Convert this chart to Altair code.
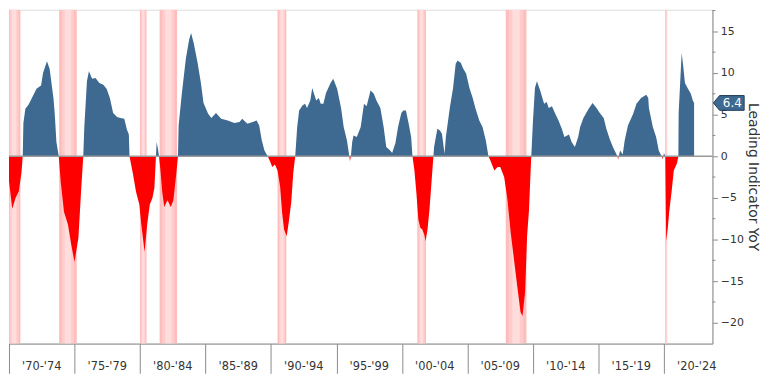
import altair as alt
import pandas as pd

# ---- data (decimal year, YoY %) ----
years = [
    1970.0, 1970.25, 1970.5, 1970.75, 1970.95, 1971.05,
    1971.1, 1971.25, 1971.5, 1971.75, 1972.1, 1972.45, 1972.6, 1972.9, 1973.1, 1973.4, 1973.5, 1973.62, 1973.8,
    1973.95, 1974.2, 1974.5, 1974.75, 1975.0, 1975.3, 1975.5, 1975.67,
    1975.75, 1975.95, 1976.1, 1976.35, 1976.6, 1976.9, 1977.2, 1977.45, 1977.7, 1977.95, 1978.25, 1978.5, 1978.8, 1979.0, 1979.15, 1979.2,
    1979.3, 1979.45, 1979.7, 1979.95, 1980.1, 1980.35, 1980.55, 1980.75, 1980.95, 1981.1, 1981.22,
    1981.27, 1981.38, 1981.45,
    1981.55, 1981.7, 1981.85, 1982.1, 1982.35, 1982.55, 1982.75, 1982.9,
    1982.95, 1983.2, 1983.5, 1983.75, 1983.9, 1984.1, 1984.4, 1984.65, 1984.85, 1985.2, 1985.45, 1985.8, 1986.2, 1986.7,
    1987.2, 1987.6, 1987.8, 1988.2, 1988.6, 1988.9, 1989.1, 1989.3, 1989.5, 1989.75,
    1989.9, 1990.1, 1990.3, 1990.5, 1990.7, 1990.85, 1991.0, 1991.2, 1991.35, 1991.55, 1991.7, 1991.85,
    1992.0, 1992.15, 1992.4, 1992.6, 1992.75, 1993.0, 1993.15, 1993.45, 1993.65, 1993.8, 1994.0, 1994.2, 1994.55, 1994.75,
    1995.05, 1995.35, 1995.55, 1995.8, 1995.98,
    1996.03, 1996.1,
    1996.2, 1996.3, 1996.55, 1996.85, 1997.1, 1997.3, 1997.6, 1997.85, 1998.05, 1998.35, 1998.6, 1998.8, 1999.1, 1999.25,
    1999.5, 1999.7, 1999.95, 2000.1, 2000.3, 2000.5, 2000.7, 2000.8,
    2000.95, 2001.1, 2001.25, 2001.4, 2001.55, 2001.7, 2001.8, 2001.95, 2002.1, 2002.25, 2002.4,
    2002.45, 2002.7, 2002.9, 2003.05, 2003.25, 2003.35, 2003.65, 2003.9, 2004.1, 2004.25, 2004.5, 2004.65, 2004.9,
    2005.15, 2005.4, 2005.6, 2005.9, 2006.15, 2006.4, 2006.6,
    2006.75, 2007.05, 2007.3, 2007.5, 2007.8, 2008.05, 2008.3, 2008.55, 2008.8, 2009.05, 2009.2, 2009.4, 2009.55, 2009.7, 2009.8, 2009.87,
    2010.0, 2010.15, 2010.3, 2010.55, 2010.85, 2011.05, 2011.2, 2011.45, 2011.7, 2011.95, 2012.2, 2012.4, 2012.75, 2012.95,
    2013.2, 2013.45, 2013.6, 2013.85, 2014.25, 2014.55, 2014.85, 2015.1, 2015.4, 2015.6, 2015.85, 2016.1, 2016.35, 2016.45,
    2016.5, 2016.55,
    2016.65, 2016.85, 2017.0, 2017.25, 2017.65, 2017.9, 2018.25, 2018.65, 2018.8, 2018.85, 2019.15, 2019.4, 2019.6, 2019.75, 2019.85,
    2019.9, 2019.95, 2020.0, 2020.1,
    2020.17, 2020.3, 2020.4, 2020.6, 2020.75, 2021.0, 2021.1,
    2021.12, 2021.35, 2021.45, 2021.6, 2021.8, 2022.05, 2022.2, 2022.3,
]
values = [
    -3.0, -6.3, -5.0, -4.2, -2.0, 0.0,
    4.0, 5.7, 6.2, 7.0, 8.1, 8.5, 10.0, 11.4, 10.5, 6.9, 4.9, 1.7, 0.0,
    -3.1, -6.7, -8.2, -10.6, -12.7, -9.8, -4.3, 0.0,
    3.5, 9.0, 10.2, 9.3, 9.4, 8.8, 8.6, 8.1, 7.0, 5.2, 4.7, 4.6, 4.5, 3.2, 2.6, 0.0,
    -0.8, -2.0, -4.3, -5.8, -8.2, -11.5, -8.2, -5.8, -5.0, -3.8, 0.0,
    1.7, 0.8, 0.0,
    -1.5, -4.3, -6.1, -5.3, -6.1, -5.3, -2.4, 0.0,
    3.7, 7.6, 11.7, 14.0, 14.8, 13.6, 11.2, 8.8, 6.4, 5.1, 4.6, 5.2, 4.5, 4.3,
    4.0, 4.1, 4.5, 3.9, 4.1, 4.3, 3.7, 1.9, 0.7, 0.0,
    -0.5, -1.3, -1.0, -1.7, -3.7, -6.8, -8.8, -9.6, -8.0, -5.5, -2.0, 0.0,
    3.5, 5.5, 6.1, 6.3, 5.8, 6.7, 8.2, 6.7, 7.0, 6.3, 6.3, 7.6, 8.8, 9.3,
    8.1, 5.8, 3.5, 1.9, 0.0,
    -0.6, 0.0,
    1.7, 2.5, 2.3, 3.5, 6.3, 6.0, 7.9, 7.5, 6.7, 5.8, 3.5, 1.1, 0.7, 0.4,
    1.6, 3.5, 5.2, 5.5, 5.5, 4.0, 2.3, 0.0,
    -1.7, -4.4, -7.6, -8.6, -8.8, -9.4, -10.2, -8.8, -6.4, -3.2, 0.0,
    1.1, 3.3, 3.1, 2.7, 0.3, 2.3, 5.8, 8.2, 11.1, 11.5, 11.2, 10.6, 9.9,
    8.2, 7.0, 5.8, 4.3, 3.5, 1.9, 0.0,
    -0.5, -1.7, -1.3, -1.3, -2.5, -5.2, -9.2, -12.4, -15.6, -18.7, -19.2, -16.3, -9.6, -6.4, -2.5, 0.0,
    4.3, 8.2, 9.0, 7.9, 6.3, 6.5, 5.8, 6.0, 5.1, 4.3, 3.3, 2.3, 2.6, 1.7,
    1.1, 2.3, 3.5, 4.6, 5.7, 6.4, 5.8, 5.2, 4.6, 3.3, 2.1, 1.1, 0.3, 0.0,
    -0.4, 0.0,
    0.7, 0.2, 1.9, 3.7, 5.1, 6.3, 7.0, 7.4, 7.0, 5.8, 3.5, 2.3, 0.7, 0.2, 0.0,
    -0.4, 0.0, 0.4, 0.0,
    -10.2, -8.5, -6.7, -4.0, -1.7, -0.8, 0.0,
    5.2, 12.4, 11.1, 8.8, 8.2, 7.5, 6.7, 6.4,
]

rec_start = [1969.92, 1973.83, 1980.0, 1981.5, 1990.5, 2001.17, 2007.92, 2020.08]
rec_end = [1970.87, 1975.17, 1980.5, 1982.83, 1991.17, 2001.83, 2009.5, 2020.25]

period_mid = [1972.5, 1977.5, 1982.5, 1987.5, 1992.5, 1997.5, 2002.5, 2007.5, 2012.5, 2017.5, 2022.5]
period_label = ["'70-'74", "'75-'79", "'80-'84", "'85-'89", "'90-'94", "'95-'99",
                "'00-'04", "'05-'09", "'10-'14", "'15-'19", "'20-'24"]
period_ticks = [1970, 1975, 1980, 1985, 1990, 1995, 2000, 2005, 2010, 2015, 2020]

y_ticks = [-20, -15, -10, -5, 0, 5, 10, 15]
y_minor = [-17.5, -12.5, -7.5, -2.5, 2.5, 7.5, 12.5, 17.5]

# ---- tables ----
df = pd.DataFrame({"year": years, "v": values})
df["pos"] = df["v"].clip(lower=0)
df["neg"] = df["v"].clip(upper=0)
rec = pd.DataFrame({"start": rec_start, "end": rec_end})
per = pd.DataFrame({"mid": period_mid, "label": period_label})
last = df.tail(1).copy()
last["label"] = last["v"].map(lambda x: f"{x:.1f}")
zero = pd.DataFrame({"v": [0]})
minor = pd.DataFrame({"v": y_minor})

W, H = 710, 337
FONT = "DejaVu Sans"
BLUE = "#3e6990"
GRAY = "#8a8a8a"

xs = alt.Scale(domain=[1970, 2023.7], nice=False, zero=False)
ys = alt.Scale(domain=[-22.5, 17.6], nice=False, zero=False)
xaxis = alt.Axis(values=period_ticks, labels=False, tickSize=30, tickColor=GRAY,
                 domainColor=GRAY, grid=False, title=None, tickWidth=1, domainWidth=1)
yaxis = alt.Axis(orient="right", values=y_ticks, tickSize=5, tickColor=GRAY, domainColor=GRAY,
                 grid=False, labelFont=FONT, labelFontSize=11, labelColor="#333333",
                 labelPadding=3, title="Leading Indicator YoY", titleFont=FONT,
                 titleFontSize=14, titleFontWeight="normal", titleColor="#333333",
                 titlePadding=2)

X = lambda f: alt.X(f, scale=xs, axis=xaxis)
Y = lambda f: alt.Y(f, scale=ys, axis=yaxis)

def band(frac, color):
    return alt.Chart(rec).transform_calculate(
        s2=f"datum.start + (datum.end - datum.start) * {frac}",
        e2=f"datum.end - (datum.end - datum.start) * {frac}",
    ).mark_rect(color=color, clip=True).encode(
        x=X("s2:Q"), x2="e2:Q", y=alt.value(0), y2=alt.value(H))

shade = band(0.0, "#ffbcbc")
shade_mid = band(0.15, "#ffcccc")
shade_in = band(0.32, "#ffdddd")

pos = alt.Chart(df).mark_area(color=BLUE, clip=True, interpolate="linear").encode(
    x=X("year:Q"), y=Y("pos:Q"))
neg = alt.Chart(df).mark_area(color="#ff0000", clip=True, interpolate="linear").encode(
    x=X("year:Q"), y=Y("neg:Q"))

zline = alt.Chart(zero).mark_rule(color="#9a9a9a", strokeWidth=1.5).encode(
    y=Y("v:Q"), x=alt.value(0), x2=alt.value(W))
mticks = alt.Chart(minor).mark_rule(color=GRAY, strokeWidth=1).encode(
    y=Y("v:Q"), x=alt.value(W), x2=alt.value(W + 3))

box = alt.Chart(last).mark_point(
    shape="M -1 0 L -0.6 -0.48 L 1 -0.48 L 1 0.48 L -0.6 0.48 Z",
    size=961, filled=True, fill=BLUE, stroke="#1f3a56", strokeWidth=1, opacity=1,
).encode(y=Y("v:Q"), x=alt.value(W + 16.5))
boxtxt = alt.Chart(last).mark_text(color="white", font=FONT, fontSize=12,
                                   align="center", baseline="middle").encode(
    y=Y("v:Q"), x=alt.value(W + 20), text="label:N")

xlab = alt.Chart(per).mark_text(font=FONT, fontSize=11.5, color="#333333",
                                align="center", baseline="middle").encode(
    x=X("mid:Q"), y=alt.value(H + 24), text="label:N")

chart = alt.layer(shade, shade_mid, shade_in, pos, neg, zline, mticks, box, boxtxt, xlab).properties(
    width=W, height=H, padding=0
).configure_view(stroke=None).configure(background="white")

chart.save("out.html", embed_options={"renderer": "svg", "actions": False})
